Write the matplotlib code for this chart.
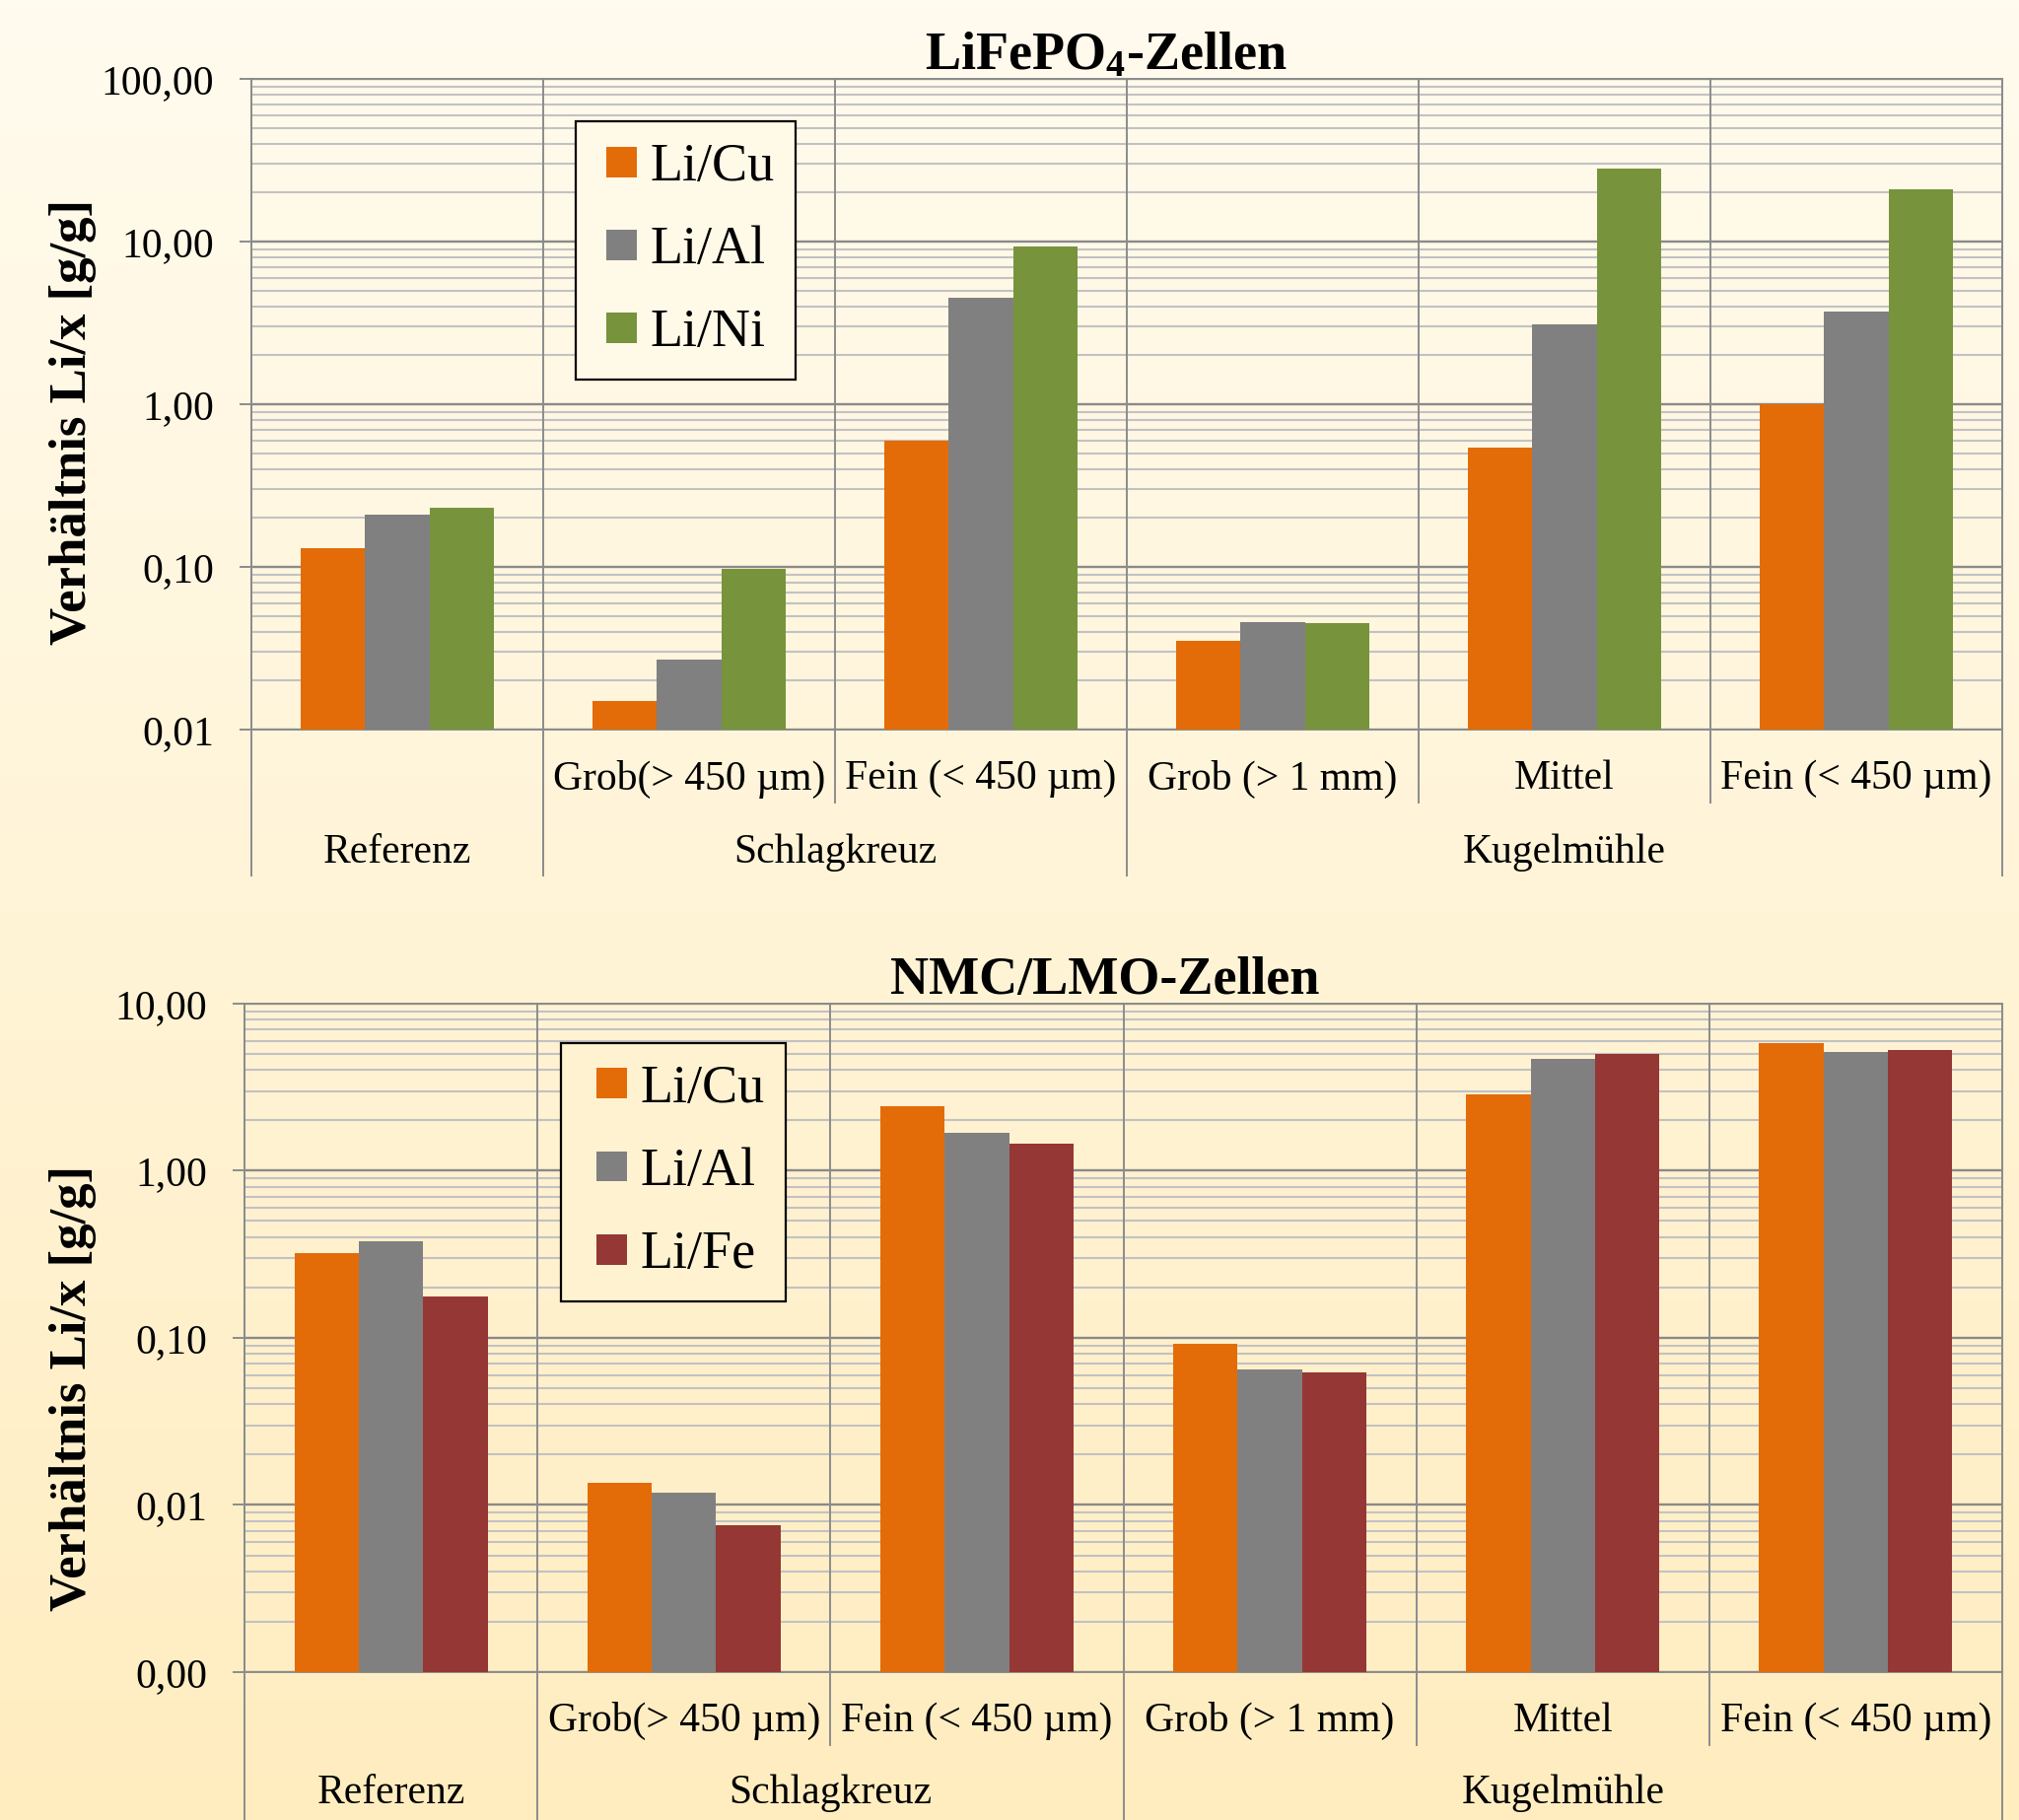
import numpy as np
import matplotlib
matplotlib.use('Agg')
import matplotlib.pyplot as plt
import matplotlib.transforms as mtransforms
from matplotlib.lines import Line2D
from matplotlib.patches import Patch, Rectangle
from matplotlib.legend_handler import HandlerPatch
from matplotlib.ticker import LogLocator, FuncFormatter, NullFormatter

plt.rcParams['font.family'] = ['Liberation Serif', 'DejaVu Serif']
plt.rcParams['mathtext.default'] = 'regular'

# x axis: sub categories and the process groups below them
sub_labels = ['', 'Grob(> 450 µm)', 'Fein (< 450 µm)', 'Grob (> 1 mm)', 'Mittel', 'Fein (< 450 µm)']
groups = ['Referenz', 'Schlagkreuz', 'Kugelmühle']
group_first = [0, 1, 3]
group_last = [0, 2, 5]

# LiFePO4 cells, ratio Li/x in g/g
lfp_names = ['Li/Cu', 'Li/Al', 'Li/Ni']
lfp_cu = [0.13, 0.015, 0.60, 0.035, 0.54, 1.00]
lfp_al = [0.21, 0.027, 4.5, 0.046, 3.1, 3.7]
lfp_ni = [0.23, 0.097, 9.3, 0.045, 28.0, 21.0]

# NMC/LMO cells, ratio Li/x in g/g
nmc_names = ['Li/Cu', 'Li/Al', 'Li/Fe']
nmc_cu = [0.32, 0.0136, 2.45, 0.092, 2.87, 5.8]
nmc_al = [0.38, 0.0119, 1.69, 0.065, 4.7, 5.15]
nmc_fe = [0.178, 0.0076, 1.46, 0.062, 5.0, 5.25]

ORANGE = '#E36C09'
GREY = '#808080'
GREEN = '#77933C'
RED = '#953735'
LINE = '#8c8c8c'

BG_TOP = np.array([255, 251, 238]) / 255
BG_BOT = np.array([255, 237, 192]) / 255


def bg_at(frac):
    # background colour at a given height (0 = top, 1 = bottom)
    return tuple(BG_TOP + (BG_BOT - BG_TOP) * frac)


def fmt_comma(v, pos):
    return ('%.2f' % v).replace('.', ',')


def square_right(legend, orig_handle, xdescent, ydescent, width, height, fontsize):
    # square marker pushed to the right end of the handle box
    return Rectangle((-xdescent + width - height, -ydescent), height, height)


def draw_panel(ax, values, names, colors, ylim, legend_xy, legend_bg, handle_len,
               label_y, group_y, sub_depth, group_depth):
    n = len(sub_labels)
    x = np.arange(n)
    w = 0.22
    for k, (vals, col) in enumerate(zip(values, colors)):
        ax.bar(x + (k - 1) * w, vals, w, color=col, zorder=3, linewidth=0)

    ax.set_yscale('log')
    ax.set_ylim(*ylim)
    ax.set_xlim(-0.5, n - 0.5)
    ax.set_facecolor('none')
    ax.set_xticks([])

    ax.yaxis.set_major_locator(LogLocator(base=10, numticks=20))
    ax.yaxis.set_major_formatter(FuncFormatter(fmt_comma))
    ax.yaxis.set_minor_locator(LogLocator(base=10, subs=np.arange(2, 10), numticks=20))
    ax.yaxis.set_minor_formatter(NullFormatter())
    ax.tick_params(axis='y', which='major', labelsize=30, length=8.6, width=1.4,
                   color=LINE, pad=18.5)
    ax.tick_params(axis='y', which='minor', length=0)
    ax.set_axisbelow(True)
    ax.grid(which='minor', axis='y', color='#c2c2c2', lw=1.5)
    ax.grid(which='major', axis='y', color='#8a8a8a', lw=1.7)
    for sp in ax.spines.values():
        sp.set_color(LINE)
        sp.set_linewidth(1.4)

    # category separators, longer ones between the process groups
    trans = mtransforms.blended_transform_factory(ax.transData, ax.transAxes)
    group_edges = {group_first[0] - 0.5} | {g + 0.5 for g in group_last}
    for b in np.arange(-0.5, n, 1.0):
        depth = group_depth if b in group_edges else sub_depth
        ax.add_line(Line2D([b, b], [1, depth], transform=trans, color=LINE,
                           lw=1.4, clip_on=False, zorder=1))

    for i, lab in enumerate(sub_labels):
        ax.text(i, label_y, lab, transform=trans, ha='center', va='center', fontsize=30)
    for g, a, b in zip(groups, group_first, group_last):
        ax.text((a + b) / 2, group_y, g, transform=trans, ha='center', va='center',
                fontsize=30)

    handles = [Patch(facecolor=c, edgecolor='none') for c in colors]
    leg = ax.legend(handles, names, loc='upper left', bbox_to_anchor=legend_xy,
                    borderaxespad=0, fontsize=39, frameon=True, fancybox=False,
                    edgecolor='black', facecolor=legend_bg, framealpha=1,
                    handlelength=handle_len, handleheight=0.5, handletextpad=0.25,
                    labelspacing=0.62, borderpad=0.4,
                    handler_map={Patch: HandlerPatch(patch_func=square_right)})
    leg.get_frame().set_linewidth(1.6)
    leg.set_zorder(5)


fig = plt.figure(figsize=(20.48, 18.46), dpi=100)

# soft vertical gradient behind everything
bg = fig.add_axes([0, 0, 1, 1], zorder=-10)
grad = np.linspace(0, 1, 256)[:, None, None]
bg.imshow(BG_TOP + (BG_BOT - BG_TOP) * grad, aspect='auto', extent=[0, 1, 0, 1])
bg.axis('off')

ax1 = fig.add_axes([0.1245, 0.5991, 0.8672, 0.3575])
draw_panel(ax1, [lfp_cu, lfp_al, lfp_ni], lfp_names, [ORANGE, GREY, GREEN],
           (0.01, 100), (0.1852, 0.9348), bg_at(0.13), 0.74,
           label_y=-0.0758, group_y=-0.189, sub_depth=-0.112, group_depth=-0.224)

ax2 = fig.add_axes([0.1211, 0.08126, 0.8706, 0.3673])
draw_panel(ax2, [nmc_cu, nmc_al, nmc_fe], nmc_names, [ORANGE, GREY, RED],
           (0.001, 10), (0.180, 0.941), bg_at(0.64), 0.84,
           label_y=-0.0737, group_y=-0.181, sub_depth=-0.109, group_depth=-0.23)

fig.text(0.548, 1 - 70 / 1846, 'LiFePO$_4$-Zellen', ha='center', va='baseline',
         fontsize=39, fontweight='bold')
fig.text(0.547, 1 - 1008 / 1846, 'NMC/LMO-Zellen', ha='center', va='baseline',
         fontsize=39, fontweight='bold')

ylab = 'Verhältnis Li/x [g/g]'
fig.text(74 / 2048, 1 - 428 / 1846, ylab, rotation=90, ha='center', va='center',
         fontsize=38, fontweight='bold')
fig.text(74 / 2048, 1 - 1408 / 1846, ylab, rotation=90, ha='center', va='center',
         fontsize=38, fontweight='bold')

fig.savefig('out.png', dpi=100)
